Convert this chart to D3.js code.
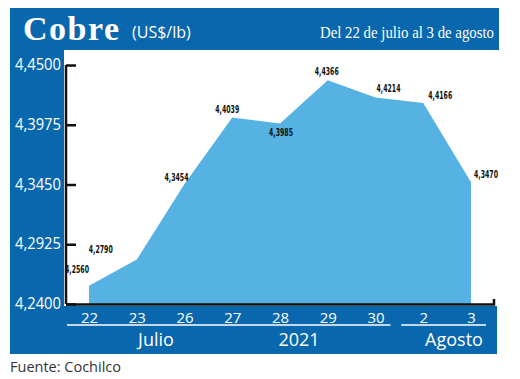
<!DOCTYPE html>
<html><head><meta charset="utf-8">
<script src="https://cdn.jsdelivr.net/npm/d3@7/dist/d3.min.js"></script>
<style>
html,body{margin:0;padding:0;background:#fff;}
svg{display:block;}
</style></head>
<body>
<svg id="c" width="520" height="379"></svg>
<script>
const title = "Cobre";
const unit = "(US$/lb)";
const period = "Del 22 de julio al 3 de agosto";
const source = "Fuente: Cochilco";
const days = ["22","23","26","27","28","29","30","2","3"];
const values = [4.2560, 4.2790, 4.3454, 4.4039, 4.3985, 4.4366, 4.4214, 4.4166, 4.3470];
const yTicks = [4.2400, 4.2925, 4.3450, 4.3975, 4.4500];
const groups = [
  {label:"Julio", from:"22", to:"30"},
  {label:"Agosto", from:"2", to:"3"}
];
const yearLabel = "2021";

const fmt = v => d3.format(".4f")(v).replace(".", ",");

const svg = d3.select("#c");
const BLUE = "#0967ad", FILL = "#55b2e2";
const font = "'Open Sans', 'Noto Sans', sans-serif";

// frame
svg.append("rect").attr("x",10).attr("y",8).attr("width",489).attr("height",42).attr("fill",BLUE);
svg.append("rect").attr("x",10).attr("y",50).attr("width",54).attr("height",304).attr("fill",BLUE);
svg.append("rect").attr("x",10).attr("y",306).attr("width",487).attr("height",48).attr("fill",BLUE);
svg.append("rect").attr("x",64).attr("y",50).attr("width",433).attr("height",256).attr("fill","#fff");

// header
svg.append("text").attr("x",23).attr("y",40).attr("fill","#fff")
  .attr("font-family","'Liberation Serif', serif").attr("font-weight","bold")
  .attr("font-size",34).attr("letter-spacing",1.5).text(title);
svg.append("text").attr("x",132).attr("y",38).attr("fill","#fff")
  .attr("font-family",font).attr("font-size",16).text(unit);
svg.append("text").attr("x",320).attr("y",38).attr("fill","#fff")
  .attr("font-family","'Liberation Serif', serif").attr("font-size",17)
  .attr("textLength",174).attr("lengthAdjust","spacingAndGlyphs").text(period);

// scales
const x = d3.scalePoint().domain(days).range([89, 471]);
const y = d3.scaleLinear().domain([4.24, 4.45]).range([304, 65]);

// area
const area = d3.area().x((d,i)=>x(days[i])).y0(y(4.24)).y1(d=>y(d));
svg.append("path").datum(values).attr("d",area).attr("fill",FILL);

// y axis
const yAxis = d3.axisRight(y).tickValues(yTicks).tickSize(10).tickFormat("");
const gy = svg.append("g").attr("transform","translate(66,0)").call(yAxis);
gy.select(".domain").attr("stroke","#111").attr("stroke-width",2.5)
  .attr("d","M0,65V304");
gy.selectAll(".tick line").attr("stroke","#111").attr("stroke-width",2.5);
svg.append("g").selectAll("text").data(yTicks).join("text")
  .attr("x",61).attr("y",d=>y(d)+5).attr("text-anchor","end")
  .attr("fill","#fff").attr("font-family",font).attr("font-size",15.5)
  .attr("textLength",46).attr("lengthAdjust","spacingAndGlyphs").text(fmt);

// x axis line
svg.append("path").attr("d","M66,304.5H494V299").attr("fill","none")
  .attr("stroke","#111").attr("stroke-width",2.5);

// x tick labels
const xAxis = d3.axisBottom(x).tickSize(0).tickPadding(0);
const gx = svg.append("g").attr("transform","translate(0,309)").call(xAxis);
gx.select(".domain").remove();
gx.selectAll(".tick text").attr("fill","#fff").attr("font-family",font)
  .attr("font-size",15).attr("dy","0.9em");

// group underlines and labels
const half = 22;
groups.forEach(g => {
  const x0 = x(g.from) - half, x1 = x(g.to) + half - 7;
  svg.append("line").attr("x1",x0).attr("x2",x1 ).attr("y1",325).attr("y2",325)
    .attr("stroke","#fff").attr("stroke-width",1.5);
});
svg.append("text").attr("x",156).attr("y",346).attr("text-anchor","middle")
  .attr("fill","#fff").attr("font-family",font).attr("font-size",18).text(groups[0].label);
svg.append("text").attr("x",299).attr("y",346).attr("text-anchor","middle")
  .attr("fill","#fff").attr("font-family",font).attr("font-size",18).text(yearLabel);
svg.append("text").attr("x",454).attr("y",346).attr("text-anchor","middle")
  .attr("fill","#fff").attr("font-family",font).attr("font-size",18).text(groups[1].label);

// data labels (offsets relative to point)
const off = [[-12,-13],[-36,-7],[-8,-3],[-5,-4],[1,12],[-1,-5],[13,-6],[17,-4],[15,-4]];
svg.append("g").selectAll("text").data(values).join("text")
  .attr("x",(d,i)=>x(days[i])+off[i][0])
  .attr("y",(d,i)=>y(d)+off[i][1])
  .attr("text-anchor","middle").attr("fill","#111")
  .attr("font-family","'DejaVu Sans', sans-serif").attr("font-weight","bold")
  .attr("font-size",11).attr("textLength",24).attr("lengthAdjust","spacingAndGlyphs")
  .text(fmt);

// source
svg.append("text").attr("x",10).attr("y",372).attr("fill","#333")
  .attr("font-family",font).attr("font-size",14.5).text(source);
</script>
</body></html>
